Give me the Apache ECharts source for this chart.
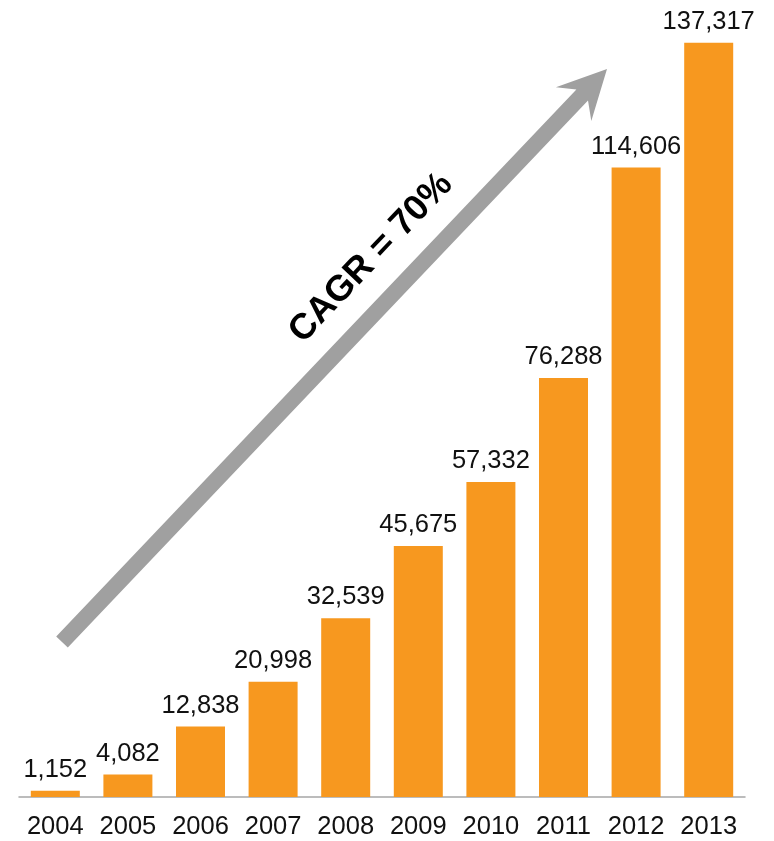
<!DOCTYPE html>
<html>
<head>
<meta charset="utf-8">
<script src="https://cdn.jsdelivr.net/npm/echarts@6/dist/echarts.min.js"></script>
<style>
  html, body { margin: 0; padding: 0; background: #fff; }
  #chart { width: 774px; height: 841px; }
</style>
</head>
<body>
<div id="chart"></div>
<script>
// years and yearly totals
const years = ['2004', '2005', '2006', '2007', '2008', '2009', '2010', '2011', '2012', '2013']
const totals = [1152, 4082, 12838, 20998, 32539, 45675, 57332, 76288, 114606, 137317]
const growthText = 'CAGR = 70%'

const chart = echarts.init(document.getElementById('chart'))

// thousands separator
function fmt(v) {
  return String(v).replace(/\B(?=(\d{3})+(?!\d))/g, ',')
}

const option = {
  backgroundColor: '#ffffff',
  animation: false,
  grid: { left: 19, right: 29, top: 28, bottom: 44 },
  xAxis: {
    type: 'category',
    data: years,
    axisLine: { lineStyle: { color: '#a6a6a6', width: 1.5 } },
    axisTick: { length: 7, lineStyle: { color: '#a6a6a6', width: 1.5 } },
    axisLabel: {
      interval: 0,
      hideOverlap: false,
      color: '#111',
      fontFamily: 'Liberation Sans, Arial',
      fontSize: 25.5,
      margin: 17
    }
  },
  yAxis: {
    type: 'value',
    min: 0,
    max: 140000,
    show: false,
    splitLine: { show: false }
  },
  series: [{
    type: 'bar',
    data: totals,
    barWidth: 49,
    itemStyle: { color: '#f7981f' },
    label: {
      show: true,
      position: 'top',
      distance: 8,
      color: '#111',
      fontFamily: 'Liberation Sans, Arial',
      fontSize: 25.5,
      formatter: p => fmt(p.value)
    }
  }],
  graphic: [
    {
      // growth arrow
      type: 'polygon',
      shape: {
        points: [
          [607, 69], [591.3, 120.9], [588.0, 100.6], [67.8, 647.5],
          [56.2, 636.5], [576.4, 89.6], [555.9, 87.3]
        ]
      },
      style: { fill: '#a0a0a0' },
      z: 10
    },
    {
      type: 'text',
      x: 371,
      y: 258,
      rotation: 46.4 * Math.PI / 180,
      style: {
        text: growthText,
        fill: '#000',
        font: 'bold 36px "Liberation Sans", Arial',
        align: 'center',
        verticalAlign: 'middle'
      },
      z: 10
    }
  ]
}

chart.setOption(option)
</script>
</body>
</html>
